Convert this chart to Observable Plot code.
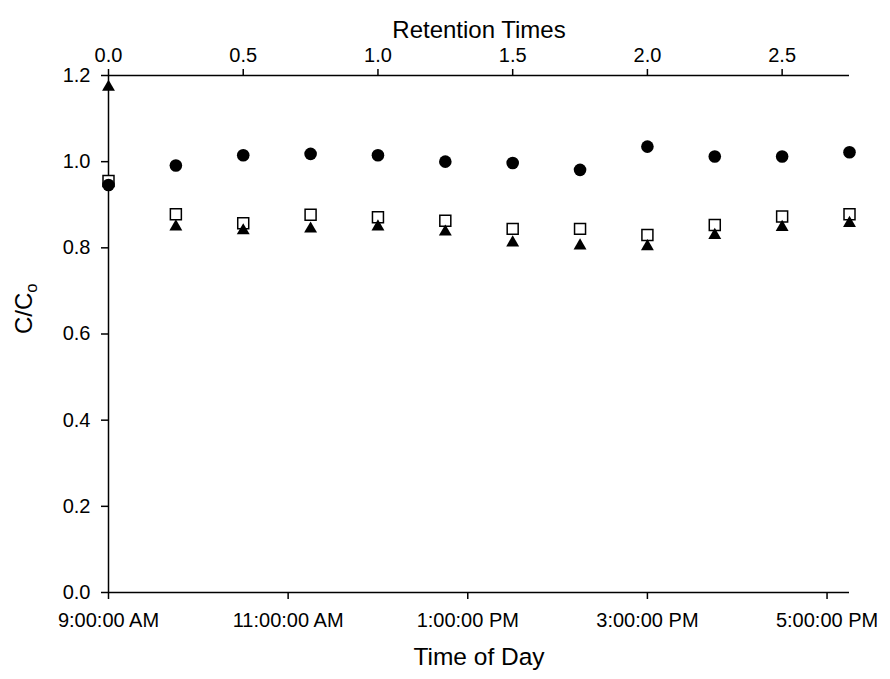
<!DOCTYPE html>
<html><head><meta charset="utf-8">
<script src="https://cdn.jsdelivr.net/npm/d3@7"></script>
<script src="https://cdn.jsdelivr.net/npm/@observablehq/plot@0.6"></script>
<style>body{margin:0;background:#fff}</style>
</head><body><div id="chart"></div>
<script>
// Sampling times (time of day) and measured C/Co values
const sampleTimes = ["09:00","09:45","10:30","11:15","12:00","12:45","13:30","14:15","15:00","15:45","16:30","17:15"];
const circleValues   = [0.946,0.991,1.015,1.018,1.015,1.000,0.997,0.981,1.035,1.012,1.012,1.022];
const squareValues   = [0.955,0.878,0.857,0.877,0.871,0.863,0.844,0.844,0.830,0.853,0.873,0.878];
const triangleValues = [1.173,0.849,0.840,0.844,0.849,0.837,0.812,0.805,0.803,0.829,0.848,0.857];
// Axis ticks
const timeTicks = ["09:00","11:00","13:00","15:00","17:00"];
const retentionTicks = [0, 0.5, 1.0, 1.5, 2.0, 2.5];
const yTicks = [0, 0.2, 0.4, 0.6, 0.8, 1.0, 1.2];
const hoursPerRetention = 3;
const startTime = "09:00", endTime = "17:15";

const toDate = s => { const [h, m] = s.split(":").map(Number); return new Date(2000, 0, 1, h, m); };
const start = toDate(startTime);
const retToDate = r => new Date(+start + r * hoursPerRetention * 3600e3);
const rows = series => sampleTimes.map((t, i) => ({t: toDate(t), v: series[i]}));
const fmtTime = d3.timeFormat("%-I:%M:%S %p");

const chart = Plot.plot({
  width: 890, height: 679,
  marginLeft: 108, marginRight: 41, marginTop: 75, marginBottom: 87,
  style: {fontFamily: "'Liberation Sans', Arial, sans-serif", fontSize: "20px", color: "#000", background: "#fff", overflow: "visible"},
  x: {type: "time", domain: [start, toDate(endTime)]},
  y: {domain: [0, 1.2]},
  marks: [
    Plot.ruleY([0], {stroke: "#000", strokeWidth: 1.5}),
    Plot.ruleY([1.2], {stroke: "#000", strokeWidth: 1.5}),
    Plot.ruleX([start], {stroke: "#000", strokeWidth: 1.5}),
    Plot.axisX(timeTicks.map(toDate), {anchor: "bottom", tickSize: 7, tickPadding: 13, strokeWidth: 1.5, tickFormat: fmtTime, label: null}),
    Plot.axisX(retentionTicks.map(retToDate), {anchor: "top", tickSize: 7, tickPadding: 7, strokeWidth: 1.5,
      tickFormat: d => ((d - start) / 3600e3 / hoursPerRetention).toFixed(1), label: null}),
    Plot.axisY(yTicks, {anchor: "left", tickSize: 7, tickPadding: 11, strokeWidth: 1.5, tickFormat: d => d.toFixed(1), label: null}),
    Plot.dot(rows(squareValues), {x: "t", y: "v", symbol: "square", r: 6.2, fill: "#fff", stroke: "#000", strokeWidth: 1.5}),
    Plot.dot(rows(triangleValues), {x: "t", y: "v", symbol: "triangle", r: 4.8, fill: "#000"}),
    Plot.dot(rows(circleValues), {x: "t", y: "v", r: 6.3, fill: "#000"}),
    Plot.text(["Time of Day"], {text: d => d, frameAnchor: "bottom", dy: 72, fontSize: 24.5}),
    Plot.text(["Retention Times"], {text: d => d, frameAnchor: "top", dy: -55, fontSize: 24}),
    Plot.text(["C/Co"], {text: d => d, frameAnchor: "left", dx: -84, rotate: -90, fontSize: 24})
  ]
});
document.getElementById("chart").appendChild(chart);
d3.select(chart).selectAll("text").filter(function() { return this.textContent === "C/Co"; })
  .each(function() {
    const t = d3.select(this);
    t.text("C/C");
    t.append("tspan").attr("dy", "0.3em").attr("font-size", "70%").text("o");
  });
</script>
</body></html>
